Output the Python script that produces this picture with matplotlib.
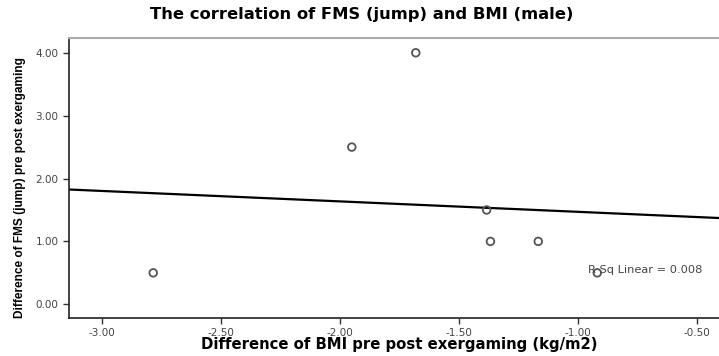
import numpy as np
import matplotlib
matplotlib.use("Agg")
import matplotlib.pyplot as plt

# Data
bmi_diff = [-2.785, -1.950, -1.681, -1.383, -1.367, -1.166, -0.918]
fms_diff = [0.5, 2.5, 4.0, 1.5, 1.0, 1.0, 0.5]
x_ticks = [-3.0, -2.5, -2.0, -1.5, -1.0, -0.5]
y_ticks = [0.0, 1.0, 2.0, 3.0, 4.0]
r_sq_label = "R Sq Linear = 0.008"

fig = plt.figure(figsize=(7.19, 3.56), dpi=100)
ax = fig.add_axes([0.0960, 0.1076, 0.9040, 0.7848])

ax.scatter(bmi_diff, fms_diff, s=30, facecolors="none", edgecolors="#555555",
           linewidths=1.3, zorder=3)

xlim = (-3.139, -0.406)
ylim = (-0.213, 4.23)
slope, intercept = np.polyfit(bmi_diff, fms_diff, 1)
xs = np.array(xlim)
ax.plot(xs, slope * xs + intercept, color="black", lw=1.6, zorder=2)

ax.set_xlim(*xlim)
ax.set_ylim(*ylim)
ax.set_xticks(x_ticks)
ax.set_xticklabels([f"{v:.2f}" for v in x_ticks])
ax.set_yticks(y_ticks)
ax.set_yticklabels([f"{v:.2f}" for v in y_ticks])
ax.tick_params(direction="out", length=4, width=1, labelsize=7.5,
               labelcolor="#444444", color="#333333")

for s in ["left", "bottom"]:
    ax.spines[s].set_color("#222222")
    ax.spines[s].set_linewidth(1.2)
ax.spines["right"].set_visible(False)
ax.spines["top"].set_color("#aaaaaa")
ax.spines["top"].set_linewidth(1.5)

ax.text(0.975, 0.171, r_sq_label, transform=ax.transAxes, ha="right",
        va="center", fontsize=8.2, color="#444444", family="DejaVu Sans")

fig.text(0.503, 0.958, "The correlation of FMS (jump) and BMI (male)",
         ha="center", va="center", fontsize=11.8, fontweight="bold",
         family="DejaVu Sans")
fig.text(0.555, 0.031, "Difference of BMI pre post exergaming (kg/m2)",
         ha="center", va="center", fontsize=10.7, fontweight="bold",
         family="DejaVu Sans")
fig.text(0.028, 0.472, "Difference of FMS (jump) pre post exergaming",
         rotation=90, ha="center", va="center", fontsize=8.6,
         fontweight="bold", family=["Liberation Sans Narrow", "Liberation Sans"])

fig.savefig("out.png", dpi=100)
